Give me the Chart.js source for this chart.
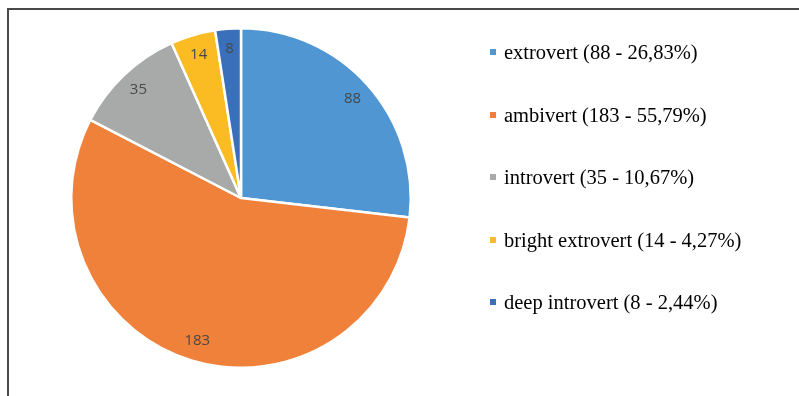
<!DOCTYPE html>
<html>
<head>
<meta charset="utf-8">
<script src="https://cdn.jsdelivr.net/npm/chart.js@4/dist/chart.umd.min.js"></script>
<style>
  html, body { margin: 0; padding: 0; background: #fff; width: 799px; height: 396px; overflow: hidden; }
  #wrap { position: relative; width: 799px; height: 396px; }
  #frame { position: absolute; left: 7px; top: 8px; width: 820px; height: 420px;
           border-top: 2px solid #4a4a4a; border-left: 2px solid #4a4a4a; box-sizing: border-box; }
  canvas { position: absolute; left: 0; top: 0; }
  #legend { position: absolute; left: 490px; top: 0; font-family: "Liberation Serif", "Times New Roman", serif;
            font-size: 20.5px; color: #000; }
  .item { position: absolute; left: 0; white-space: nowrap; display: flex; align-items: center; height: 24px; }
  .sw { width: 6px; height: 6px; margin-right: 8px; flex: none; }
</style>
</head>
<body>
<div id="wrap">
  <div id="frame"></div>
  <canvas id="c" width="799" height="396"></canvas>
  <div id="legend"></div>
</div>
<script>
const categories = ["extrovert", "ambivert", "introvert", "bright extrovert", "deep introvert"];
const counts = [88, 183, 35, 14, 8];
const percents = ["26,83%", "55,79%", "10,67%", "4,27%", "2,44%"];
const colors = ["#4f96d2", "#ef813a", "#a8a9a9", "#fbbb22", "#3a70b9"];

const legendEl = document.getElementById('legend');
const rowY = [52, 115, 177, 240, 302];
categories.forEach((cat, i) => {
  const d = document.createElement('div');
  d.className = 'item';
  d.style.top = (rowY[i] - 12) + 'px';
  const sw = document.createElement('span');
  sw.className = 'sw';
  sw.style.background = colors[i];
  const t = document.createElement('span');
  t.textContent = cat + ' (' + counts[i] + ' - ' + percents[i] + ')';
  d.appendChild(sw); d.appendChild(t);
  legendEl.appendChild(d);
});

const labelPlugin = {
  id: 'valueLabels',
  afterDatasetsDraw(chart) {
    const ctx = chart.ctx;
    const meta = chart.getDatasetMeta(0);
    ctx.save();
    ctx.font = '15px "Open Sans", "Liberation Sans", sans-serif';
    ctx.fillStyle = '#484848';
    ctx.textAlign = 'center';
    ctx.textBaseline = 'middle';
    meta.data.forEach((arc, i) => {
      const p = arc.getProps(['x', 'y', 'startAngle', 'endAngle', 'outerRadius'], true);
      const mid = (p.startAngle + p.endAngle) / 2;
      const r = p.outerRadius * 0.88;
      ctx.fillText(String(counts[i]), p.x + Math.cos(mid) * r, p.y + Math.sin(mid) * r);
    });
    ctx.restore();
  }
};

new Chart(document.getElementById('c'), {
  type: 'pie',
  data: {
    labels: categories,
    datasets: [{
      data: counts,
      backgroundColor: colors,
      borderColor: '#ffffff',
      borderWidth: 2.5,
      hoverOffset: 0
    }]
  },
  options: {
    responsive: false,
    animation: false,
    layout: { padding: { left: 70, right: 387, top: 27, bottom: 27 } },
    plugins: { legend: { display: false }, tooltip: { enabled: false } }
  },
  plugins: [labelPlugin]
});
</script>
</body>
</html>
